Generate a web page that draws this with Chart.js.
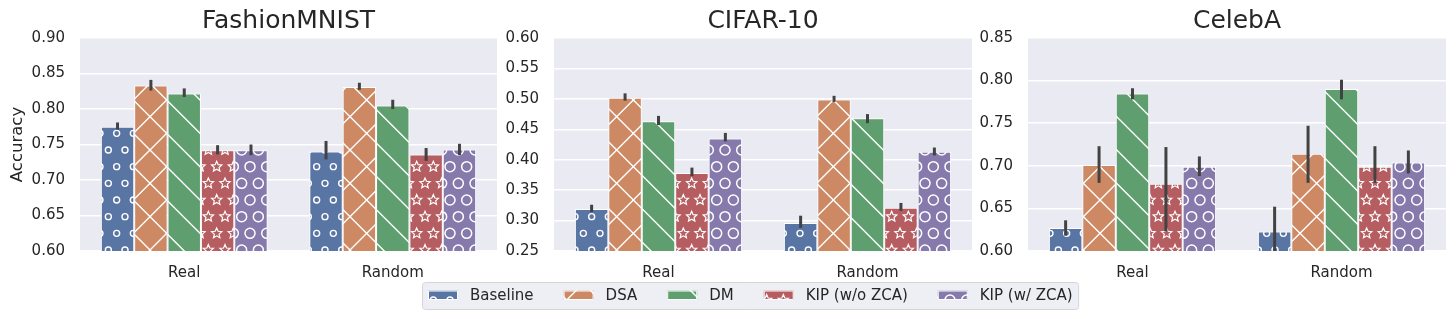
<!DOCTYPE html>
<html><head><meta charset="utf-8">
<script src="https://cdn.jsdelivr.net/npm/chart.js@4.4.0/dist/chart.umd.min.js"></script>
<style>
html,body{margin:0;padding:0;background:#ffffff;overflow:hidden}
#wrap{position:relative;width:1456px;height:319px}
canvas{position:absolute;left:0;top:0}
</style></head><body>
<div id="wrap">
<canvas id="c1" width="1456" height="319"></canvas>
<canvas id="c2" width="1456" height="319"></canvas>
<canvas id="c3" width="1456" height="319"></canvas>
</div>
<script>
// ---------------- data ----------------
const categories = ['Real', 'Random'];
const methods = ['Baseline', 'DSA', 'DM', 'KIP (w/o ZCA)', 'KIP (w/ ZCA)'];
const titles = ['FashionMNIST', 'CIFAR-10', 'CelebA'];

// each row: one method, [Real, Random]
const fmnistMean = [[0.775, 0.740], [0.833, 0.831], [0.822, 0.805], [0.742, 0.736], [0.742, 0.743]];
const fmnistLow  = [[0.771, 0.729], [0.826, 0.827], [0.817, 0.800], [0.736, 0.727], [0.735, 0.735]];
const fmnistHigh = [[0.781, 0.755], [0.841, 0.837], [0.829, 0.813], [0.749, 0.745], [0.750, 0.751]];

const cifarMean = [[0.319, 0.296], [0.502, 0.499], [0.463, 0.468], [0.378, 0.321], [0.435, 0.413]];
const cifarLow  = [[0.314, 0.288], [0.497, 0.495], [0.457, 0.460], [0.373, 0.316], [0.430, 0.407]];
const cifarHigh = [[0.326, 0.308], [0.509, 0.505], [0.472, 0.475], [0.387, 0.329], [0.444, 0.420]];

const celebaMean = [[0.627, 0.623], [0.701, 0.714], [0.785, 0.790], [0.679, 0.699], [0.699, 0.704]];
const celebaLow  = [[0.618, 0.594], [0.680, 0.680], [0.778, 0.778], [0.623, 0.680], [0.688, 0.691]];
const celebaHigh = [[0.636, 0.652], [0.723, 0.747], [0.791, 0.801], [0.722, 0.723], [0.711, 0.718]];

const fmnistTicks = [0.60, 0.65, 0.70, 0.75, 0.80, 0.85, 0.90];
const cifarTicks  = [0.25, 0.30, 0.35, 0.40, 0.45, 0.50, 0.55, 0.60];
const celebaTicks = [0.60, 0.65, 0.70, 0.75, 0.80, 0.85];

// ---------------- style ----------------
const FONT = 'DejaVu Sans';
const TEXT = '#262626';
const colors = ['#5975A4', '#CC8963', '#5F9E6E', '#B55D60', '#857AAB'];
const hatches = ['o', 'x', '\\', '*', 'O'];

function makePattern(color, kind) {
  const T = 100, s = T / 6;
  const c = document.createElement('canvas');
  c.width = T; c.height = T;
  const g = c.getContext('2d');
  g.fillStyle = color; g.fillRect(0, 0, T, T);
  g.strokeStyle = '#ffffff';
  if (kind === 'x' || kind === '\\') {
    g.lineWidth = 1.4;
    const p = T / 3;
    g.beginPath();
    for (let k = -6; k <= 9; k++) {
      const cc = k * p;
      g.moveTo(cc - 20, -20); g.lineTo(cc + T + 20, T + 20);
      if (kind === 'x') { g.moveTo(cc + 20, -20); g.lineTo(cc - T - 20, T + 20); }
    }
    g.stroke();
  } else {
    for (let r = -1; r <= 7; r++) {
      for (let col = -1; col <= 7; col++) {
        const cx = (col + (r % 2 !== 0 ? 0.5 : 0)) * s, cy = r * s;
        g.beginPath();
        if (kind === 'o') { g.lineWidth = 1.4; g.arc(cx, cy, 3.0, 0, Math.PI * 2); }
        else if (kind === 'O') { g.lineWidth = 1.5; g.arc(cx, cy, 5.0, 0, Math.PI * 2); }
        else {
          g.lineWidth = 1.2;
          for (let i = 0; i < 10; i++) {
            const rad = i % 2 === 0 ? 5.4 : 2.5;
            const a = -Math.PI / 2 + i * Math.PI / 5;
            const px = cx + rad * Math.cos(a), py = cy + rad * Math.sin(a);
            if (i === 0) g.moveTo(px, py); else g.lineTo(px, py);
          }
          g.closePath();
        }
        g.stroke();
      }
    }
  }
  return g.createPattern(c, 'repeat');
}
const patterns = colors.map((c, i) => makePattern(c, hatches[i]));

const bgPlugin = {
  id: 'bg',
  beforeDraw(chart) {
    const a = chart.chartArea, ctx = chart.ctx;
    ctx.save(); ctx.fillStyle = '#EAEAF2';
    ctx.fillRect(a.left, a.top, a.right - a.left, a.bottom - a.top);
    ctx.restore();
  }
};

const errPlugin = {
  id: 'err',
  afterDatasetsDraw(chart) {
    const a = chart.chartArea, ctx = chart.ctx, ys = chart.scales.y;
    ctx.save();
    ctx.beginPath(); ctx.rect(a.left, a.top, a.right - a.left, a.bottom - a.top); ctx.clip();
    ctx.strokeStyle = '#424242'; ctx.lineWidth = 3; ctx.lineCap = 'butt';
    chart.data.datasets.forEach((ds, i) => {
      chart.getDatasetMeta(i).data.forEach((bar, j) => {
        ctx.beginPath();
        ctx.moveTo(bar.x, ys.getPixelForValue(ds.lo[j]));
        ctx.lineTo(bar.x, ys.getPixelForValue(ds.hi[j]));
        ctx.stroke();
      });
    });
    ctx.restore();
  }
};

const legendPlugin = {
  id: 'legendBox',
  afterDraw(chart) {
    const ctx = chart.ctx;
    ctx.save();
    ctx.font = '15px "' + FONT + '"';
    const ds = chart.data.datasets;
    const widths = ds.map(d => ctx.measureText(d.label).width);
    const x0 = 428, patchW = 30, gap = 12, colGap = 30;
    let total = 0;
    widths.forEach((w, i) => { total += patchW + gap + w + (i < widths.length - 1 ? colGap : 0); });
    const left = 422.5, top = 282.5, right = x0 + total + 6, bottom = 309.5;
    ctx.beginPath();
    ctx.roundRect(left, top, right - left, bottom - top, 3);
    ctx.fillStyle = '#EEEEF5'; ctx.fill();
    ctx.strokeStyle = '#D6D6D6'; ctx.lineWidth = 1; ctx.stroke();
    let x = x0;
    ds.forEach((d, i) => {
      ctx.fillStyle = d.backgroundColor;
      ctx.fillRect(x, 290.5, patchW, 9.5);
      ctx.strokeStyle = '#ffffff'; ctx.lineWidth = 1;
      ctx.strokeRect(x + 0.5, 291, patchW - 1, 8.5);
      ctx.fillStyle = TEXT; ctx.textBaseline = 'alphabetic'; ctx.textAlign = 'left';
      ctx.fillText(d.label, x + patchW + gap, 300);
      x += patchW + gap + widths[i] + colGap;
    });
    ctx.restore();
  }
};

const areas = [{ left: 80, right: 497 }, { left: 554, right: 972 }, { left: 1028, right: 1446 }];
const X_H = 40, TOP = 38, BOTTOM = 251;

function makeChart(id, idx, means, lows, highs, ticks) {
  const area = areas[idx];
  const yW = idx === 0 ? 80 : 60;
  return new Chart(document.getElementById(id), {
    type: 'bar',
    data: {
      labels: categories,
      datasets: methods.map((m, i) => ({
        label: m, data: means[i], lo: lows[i], hi: highs[i],
        backgroundColor: patterns[i], borderColor: '#ffffff', borderWidth: 1,
        categoryPercentage: 0.8, barPercentage: 1.0
      }))
    },
    options: {
      responsive: false, animation: false, devicePixelRatio: 1,
      layout: { padding: { left: area.left - yW, right: 1456 - area.right, top: 0, bottom: 319 - BOTTOM - X_H } },
      plugins: {
        legend: { display: false }, tooltip: { enabled: false },
        title: {
          display: true, text: titles[idx], fullSize: false, color: TEXT,
          font: { family: FONT, size: 25, weight: 'normal', lineHeight: 1.2 },
          padding: { top: 6, bottom: TOP - 6 - 30 }
        }
      },
      scales: {
        x: {
          grid: { display: false }, border: { display: false },
          ticks: { font: { family: FONT, size: 15 }, color: TEXT, padding: 5 },
          afterFit: s => { s.height = X_H; }
        },
        y: {
          min: ticks[0], max: ticks[ticks.length - 1],
          grid: { color: '#ffffff', lineWidth: 1.5, drawTicks: false }, border: { display: false },
          ticks: { font: { family: FONT, size: 15 }, color: TEXT, padding: 15, callback: v => Number(v).toFixed(2) },
          afterBuildTicks: s => { s.ticks = ticks.map(v => ({ value: v })); },
          afterFit: s => { s.width = yW; },
          title: idx === 0 ? { display: true, text: 'Accuracy', color: TEXT, font: { family: FONT, size: 16.5 }, padding: { top: 8 } } : { display: false }
        }
      }
    },
    plugins: idx === 1 ? [bgPlugin, errPlugin, legendPlugin] : [bgPlugin, errPlugin]
  });
}

makeChart('c1', 0, fmnistMean, fmnistLow, fmnistHigh, fmnistTicks);
makeChart('c2', 1, cifarMean, cifarLow, cifarHigh, cifarTicks);
makeChart('c3', 2, celebaMean, celebaLow, celebaHigh, celebaTicks);
</script>
</body></html>
